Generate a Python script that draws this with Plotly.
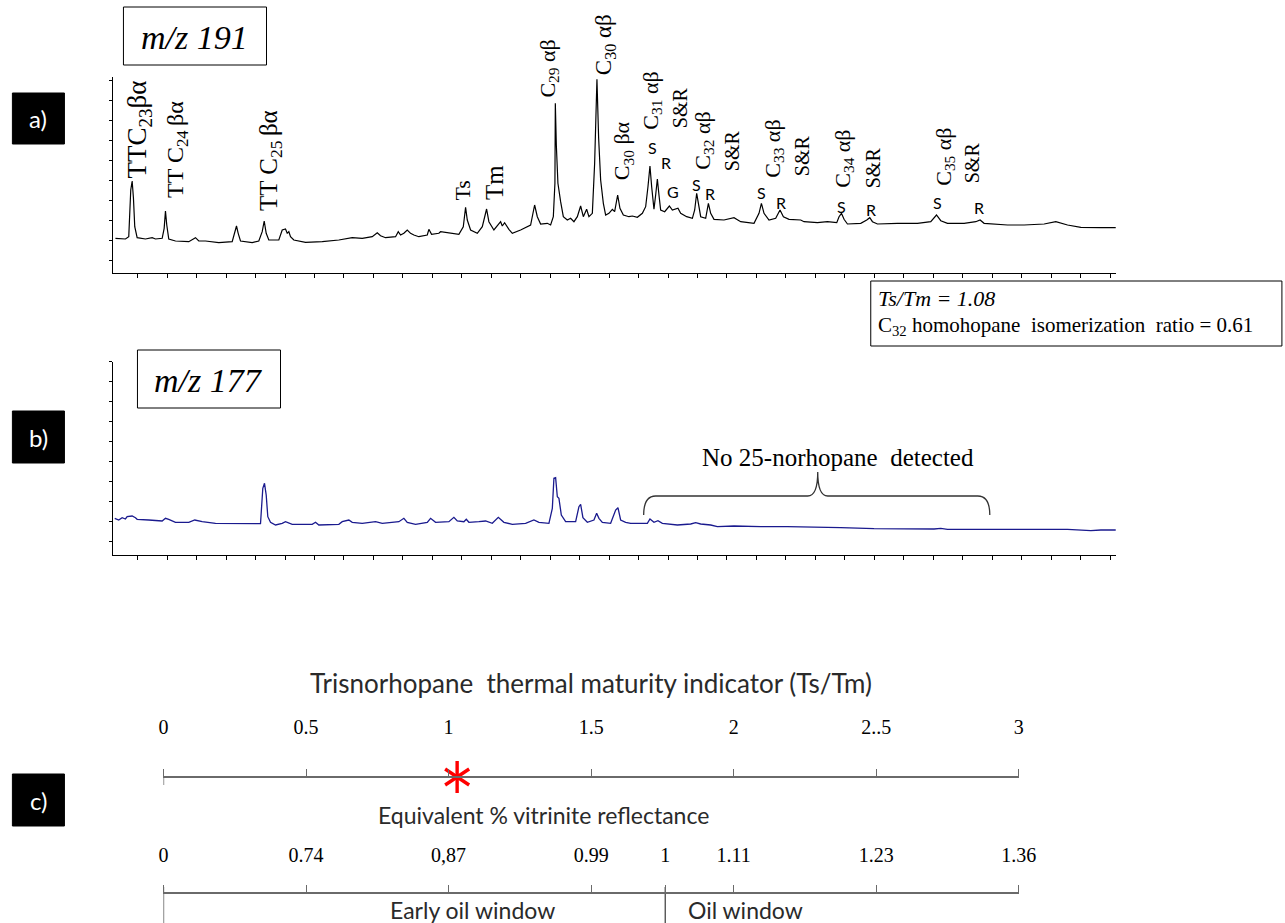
import plotly.graph_objects as go

W, H = 1285, 923
# small horizontal correction so that layout pixels land where intended in the photograph
X_SCALE, X_OFF = 0.9817, 4.6
def fx(p):
    return ((p - X_OFF) / X_SCALE) / W
def fy(p):
    return 1 - p / H

SERIF = "Liberation Serif, Times New Roman, serif"
SANS = "Lato, Open Sans, sans-serif"

# ---------------- data ----------------
# m/z 191 chromatogram: (scan index, abundance)
mz191_points = [
    (2, 34.7), (12, 34), (15.3, 36.3), (17.3, 83), (18.7, 92), (20, 74.7), (21.3, 46.3), (23.7, 35.3),
    (32, 34), (38.7, 35.3), (42, 34), (48.7, 34.7), (50.7, 44.7), (52, 62), (53.3, 48), (55.3, 34),
    (62, 32), (75.3, 31.3), (82, 35.3), (85.3, 32), (92, 32), (105.3, 30.3), (118.7, 31.3), (121.3, 39.7),
    (123, 47), (124.7, 39.7), (127, 32), (138.7, 30.3), (145.3, 32), (148.7, 41.3), (150.7, 52), (152.7, 39.7),
    (155.3, 33), (165.3, 33), (168.7, 43), (172, 44), (173.7, 39.7), (175.3, 41.3), (177, 36.3), (180.3, 33),
    (192, 30.7), (208.7, 31.3), (225.3, 33), (238.7, 35.3), (248.7, 34.7), (258.7, 36.3), (263.7, 40.3),
    (267, 37.3), (272, 35.3), (282, 36.3), (284.7, 41.3), (287, 38), (290.3, 39.7), (293.7, 43), (297, 39.7),
    (300.3, 38), (305.3, 36.3), (313.7, 38), (315.3, 43.7), (318, 38.7), (325.3, 39.7), (327, 41.3),
    (337, 39.7), (345.3, 38.7), (349.7, 46.3), (352, 65.7), (353.7, 53), (357, 43), (363.7, 39.7),
    (368.7, 46.3), (373, 64), (375.3, 51.3), (380.3, 43), (385.3, 49.7), (387, 51.3), (388.7, 47),
    (391, 50.3), (395.3, 43.7), (398.7, 39.7), (407, 43), (417, 48), (421, 68), (423.7, 56.3), (427, 49),
    (433.7, 49.7), (437, 48), (439.7, 56.3), (441.3, 89.7), (441.7, 169.7), (442.7, 128), (444.3, 89.7),
    (447, 71.3), (449.7, 56.3), (453.7, 53), (457, 54.7), (460.3, 51.3), (463.7, 56.3), (467, 67),
    (469.7, 56.3), (473, 63.7), (475.3, 56.3), (478.7, 59.7), (481, 109.7), (483.3, 193.7), (485, 134.7),
    (487, 93), (489.7, 69.7), (492, 58), (495.3, 59.7), (498.7, 63.7), (501, 61.3), (504, 78), (506.3, 64.7),
    (509.7, 58), (515.3, 56.3), (518.7, 57), (523.7, 55.7), (528.7, 59.7), (532, 66.3), (534.3, 86.3),
    (536.3, 107), (538, 86.3), (540.3, 63.7), (542, 78), (543.7, 94), (545.3, 78), (547, 63), (551, 61.3),
    (555.7, 67), (558.7, 63), (564.3, 64.7), (567, 59.7), (573, 56.3), (578.7, 54.7), (581, 63), (583, 79.7),
    (585, 66.3), (587, 56.3), (592, 54.7), (594.7, 69.7), (597, 59.7), (600.3, 53.7), (610.3, 53),
    (620.3, 55.3), (627, 51.3), (640.3, 49.7), (645.3, 59.7), (647.7, 69.7), (650.3, 59.7), (655.3, 53),
    (662, 54.7), (666.3, 63), (669.7, 56.3), (675.3, 53.7), (687, 53), (690.3, 51.3), (703.7, 50.3),
    (713.7, 51.3), (723, 50.3), (725.3, 56.3), (727.7, 59.7), (730.3, 53.7), (733.7, 49), (747, 49.7),
    (753, 53), (756, 55.3), (758.7, 51.3), (763.7, 49), (783.7, 49.7), (803.7, 49.7), (817, 51.3),
    (822.7, 58), (827, 52.3), (833.7, 49.7), (850.3, 49.7), (862, 51.3), (866.3, 53), (870.3, 49.7),
    (893.7, 48), (910.3, 48), (930.3, 49), (942, 51.3), (953.7, 48), (967, 45.7), (987, 45.3), (1002, 45.3),
]

# m/z 177 chromatogram: (scan index, abundance)
mz177_points = [
    (1.3, 36.2), (5.3, 34.5), (8.7, 36.8), (12, 35.5), (13.7, 37.8), (18.7, 38.5), (22, 36.8), (23.7, 35.2),
    (35.3, 34.5), (42, 33.8), (48.7, 33.5), (52, 36.2), (55.3, 35.2), (62, 32.2), (75.3, 32.2), (81.3, 34.5),
    (88.7, 32.8), (102, 31.2), (125.3, 30.8), (147, 30.8), (149.3, 66.2), (151, 71.2), (152.7, 59.5),
    (154.3, 37.8), (157, 32.2), (162, 29.5), (168.7, 31.2), (172, 32.8), (178.7, 30.2), (198.7, 30.2),
    (202, 32.2), (205.3, 29.5), (225.3, 30.2), (228.7, 32.8), (235.3, 34.5), (238.7, 32.2), (248.7, 31.2),
    (262, 32.8), (268.7, 31.2), (285.3, 32.8), (290.3, 36.2), (293.7, 32.2), (302, 30.2), (313.7, 32.2),
    (317, 36.2), (322, 32.2), (335.3, 32.8), (340.3, 37.2), (343.7, 33.5), (350.3, 32.8), (352.7, 35.2),
    (355.3, 32.2), (365.3, 32.8), (372, 33.5), (378.7, 31.2), (384.7, 37.2), (390.3, 32.2), (398.7, 30.2),
    (412, 31.2), (420.3, 34.5), (425.3, 32.2), (435.3, 31.2), (438.7, 46.2), (440.3, 76.2), (442, 76.8),
    (443.7, 57.8), (445.3, 56.2), (447.7, 39.5), (452, 32.8), (462, 32.8), (465.3, 47.8), (467, 50.2),
    (469.3, 36.8), (473.7, 32.2), (480.3, 34.5), (483, 41.2), (485.3, 36.2), (488.7, 32.2), (497, 31.2),
    (502, 44.5), (504.3, 46.8), (507, 34.5), (512, 32.2), (517, 31.2), (533.7, 31.2), (536.3, 35.5),
    (540.3, 32.2), (544.3, 33.8), (548.7, 31.2), (563.7, 29.5), (577, 30.5), (582, 31.8), (587, 30.5),
    (597, 29.5), (603.7, 27.8), (620.3, 28.5), (647, 27.8), (673.7, 27.8), (727, 26.8), (760.3, 25.8),
    (820.3, 25.5), (827, 26.2), (833.7, 25.2), (887, 25.2), (953.7, 25.2), (977, 23.8), (987, 24.5),
    (1002, 24.5),
]
mz191_scan = [p[0] for p in mz191_points]
mz191_abund = [p[1] for p in mz191_points]
mz177_scan = [p[0] for p in mz177_points]
mz177_abund = [p[1] for p in mz177_points]

# Ts/Tm scale and equivalent vitrinite reflectance scale
ts_tm_tickvals = [0, 0.5, 1, 1.5, 2, 2.5, 3]
ts_tm_ticktext = ["0", "0.5", "1", "1.5", "2", "2..5", "3"]
ro_tickvals = [0, 0.5, 1, 1.5, 1.76, 2, 2.5, 3]
ro_ticktext = ["0", "0.74", "0,87", "0.99", "1", "1.11", "1.23", "1.36"]
sample_ts_tm_marker = [1.03]
oil_window_start = 1.76  # position of %Ro = 1 on Ts/Tm scale
window_bounds = [0, oil_window_start]

# ---------------- figure ----------------
fig = go.Figure()
fig.add_trace(go.Scatter(x=mz191_scan, y=mz191_abund, mode="lines",
                         line=dict(color="black", width=1.2), xaxis="x", yaxis="y",
                         hoverinfo="skip"))
fig.add_trace(go.Scatter(x=mz177_scan, y=mz177_abund, mode="lines",
                         line=dict(color="#1a1a8e", width=1.3), xaxis="x2", yaxis="y2",
                         hoverinfo="skip"))
# sample marker (red asterisk)
star_x = sample_ts_tm_marker * 2
fig.add_trace(go.Scatter(x=star_x, y=[0] * len(star_x), mode="markers",
                         marker=dict(symbol=["y-up-open", "y-down-open"], size=20, color="red",
                                     line=dict(color="red", width=3.4)),
                         xaxis="x3", yaxis="y3", cliponaxis=False, hoverinfo="skip"))
# window boundaries on the reflectance scale
bx, by = [], []
for b in window_bounds:
    bx += [b, b, None]
    by += [0, 1, None]
fig.add_trace(go.Scatter(x=bx, y=by, mode="lines", line=dict(color="#555555", width=1.4),
                         xaxis="x4", yaxis="y4", cliponaxis=False, hoverinfo="skip"))

chrom_x = dict(range=[0, 1002], showline=True, linecolor="black", linewidth=1,
               ticks="outside", ticklen=4, tickcolor="black", tick0=24.3, dtick=29.45,
               showticklabels=False, showgrid=False, zeroline=False)
chrom_y = dict(showline=True, linecolor="black", linewidth=1, ticks="outside", ticklen=3,
               tickcolor="black", dtick=20, showticklabels=False, showgrid=False, zeroline=False)

scale_axis = dict(range=[0, 3], showline=True, linecolor="#6a6a6a", linewidth=1.6,
                  ticks="outside", ticklen=7, tickwidth=1.4, tickcolor="#6a6a6a",
                  tickfont=dict(family=SERIF, size=20, color="black"),
                  showgrid=False, zeroline=False, side="top", anchor="free")

fig.update_layout(
    width=W, height=H, autosize=False, margin=dict(l=0, r=0, t=0, b=0),
    paper_bgcolor="white", plot_bgcolor="rgba(0,0,0,0)", showlegend=False,
    xaxis=dict(domain=[fx(113), fx(1115)], anchor="y", **chrom_x),
    yaxis=dict(domain=[fy(273), fy(77)], range=[0, 196], anchor="x", tick0=13, **chrom_y),
    xaxis2=dict(domain=[fx(113), fx(1115)], anchor="y2", **chrom_x),
    yaxis2=dict(domain=[fy(554.5), fy(361.5)], range=[0, 193], anchor="x2", tick0=12.8, **chrom_y),
    xaxis3=dict(domain=[fx(163), fx(1018)], position=fy(777), tickvals=ts_tm_tickvals,
                ticktext=ts_tm_ticktext, ticklabelstandoff=27, **scale_axis),
    yaxis3=dict(domain=[fy(800), fy(754)], range=[-1, 1], visible=False, anchor="x3"),
    xaxis4=dict(domain=[fx(163), fx(1018)], position=fy(893), tickvals=ro_tickvals,
                ticktext=ro_ticktext, ticklabelstandoff=15, **scale_axis),
    yaxis4=dict(domain=[0, fy(887)], range=[0, 1], visible=False, anchor="x4"),
)

shapes = []
annotations = []

def text(t, x, y, size, family=SERIF, color="black", angle=0, xanchor="center", yanchor="middle"):
    annotations.append(dict(text=t, x=fx(x), y=fy(y), xref="paper", yref="paper", showarrow=False,
                            font=dict(family=family, size=size, color=color), textangle=angle,
                            xanchor=xanchor, yanchor=yanchor))

def rect(x0, y0, x1, y1, fill=None, line="black", width=1):
    shapes.append(dict(type="rect", xref="paper", yref="paper", x0=fx(x0), x1=fx(x1),
                       y0=fy(y1), y1=fy(y0), fillcolor=fill or "rgba(0,0,0,0)",
                       line=dict(color=line, width=width), layer="above"))

# panel letter boxes
for lab, (y0, y1) in zip(["a)", "b)", "c)"], [(93, 144), (411, 463), (774, 826)]):
    rect(12, y0, 64, y1, fill="black", line="black")
    text(lab, 38, (y0 + y1) / 2, 24, family=SANS, color="white")

# m/z boxes
rect(123, 7, 266, 65)
text("<i>m/z 191</i>", 194.5, 37, 34)
rect(137, 350, 280, 408)
text("<i>m/z 177</i>", 208.5, 380, 34)

# Ts/Tm box
rect(870, 281, 1281, 346)
text("<i>Ts/Tm = 1.08</i>", 875, 298, 22, xanchor="left")
text("C<sub>32</sub> homohopane  isomerization  ratio = 0.61", 875, 326, 21, xanchor="left")

# peak labels (rotated)
peak_labels = [
    ("TTC<sub>23</sub>βα", 139, 180, 27), ("TT C<sub>24 </sub>βα", 177, 200, 24),
    ("TT C<sub>25 </sub>βα", 270, 213, 25), ("Ts", 461, 203, 22), ("Tm", 494, 202, 25),
    ("C<sub>29</sub> αβ", 548, 100, 22), ("C<sub>30</sub> αβ", 605, 77, 23),
    ("C<sub>30</sub> βα", 623, 182, 22), ("C<sub>31</sub> αβ", 651, 132, 22), ("S&R", 679, 130, 20),
    ("C<sub>32</sub> αβ", 703, 172, 22), ("S&R", 731, 173, 20),
    ("C<sub>33</sub> αβ", 773, 180, 22), ("S&R", 802, 178, 20),
    ("C<sub>34</sub> αβ", 843, 190, 22), ("S&R", 872, 190, 20),
    ("C<sub>35</sub> αβ", 944, 188, 22), ("S&R", 972, 185, 20),
]
for t, x, y, s in peak_labels:
    text(t, x, y, s, angle=-90, yanchor="bottom")

sr_labels = [
    ("S", 652, 148), ("R", 665, 163), ("G", 672, 191),
    ("S", 696, 185), ("R", 709, 193), ("S", 761, 192), ("R", 780, 202),
    ("S", 841, 206), ("R", 870, 210), ("S", 937, 202), ("R", 978, 207),
]
for t, x, y in sr_labels:
    text(t, x, y, 16, family=SANS)

# brace in panel b (data coordinates of the m/z 177 trace)
shapes.append(dict(type="path", xref="x2", yref="y2", layer="above",
                   path="M 530,39.5 Q 530,58.5 542,58.5 L 694,58.5 Q 704,58.5 704,82.5 "
                        "Q 704,58.5 714,58.5 L 864,58.5 Q 876,58.5 876,39.5",
                   line=dict(color="#333333", width=1.3)))
text("No 25-norhopane  detected", 837, 458, 25)

# panel c texts
text("Trisnorhopane  thermal maturity indicator (Ts/Tm)", 590, 683, 26, family=SANS, color="#2a2a2a")
text("Equivalent % vitrinite reflectance", 543, 815, 23, family=SANS, color="#2a2a2a")
text("Early oil window", 472, 910, 23, family=SANS, color="#2a2a2a")
text("Oil window", 745, 910, 23, family=SANS, color="#2a2a2a")

# the cross at origin of top scale
shapes.append(dict(type="line", xref="x3", yref="paper", x0=0, x1=0, y0=fy(777), y1=fy(785),
                   line=dict(color="#6a6a6a", width=1.4)))

fig.update_layout(shapes=shapes, annotations=annotations)
fig.write_html(
    "out.html",
    config={"responsive": False, "displayModeBar": False},
    post_script=("document.documentElement.style.overflow='hidden';"
                 "document.body.style.margin='0';document.body.style.padding='0';"
                 "document.body.style.overflow='hidden';window.scrollTo(0,0);"),
)
